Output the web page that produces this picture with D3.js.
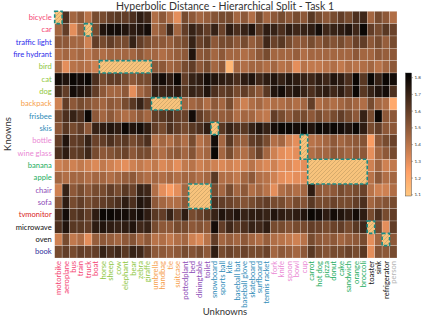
<!DOCTYPE html>
<html><head><meta charset="utf-8">
<script src="https://cdn.jsdelivr.net/npm/d3@7"></script>
<style>body{margin:0;background:#fff}svg{display:block}</style>
</head><body>
<svg id="c" width="423" height="320"></svg>
<script>
const knowns = ["bicycle","car","traffic light","fire hydrant","bird","cat","dog","backpack","frisbee","skis","bottle","wine glass","banana","apple","chair","sofa","tvmonitor","microwave","oven","book"];
const knownGroups = ["vehicle","vehicle","outdoor","outdoor","animal","animal","animal","accessory","sports","sports","kitchen","kitchen","food","food","furniture","furniture","electronic","appliance","appliance","indoor"];
const unknowns = ["motorbike","aeroplane","bus","train","truck","boat","horse","sheep","cow","elephant","bear","zebra","giraffe","umbrella","handbag","tie","suitcase","pottedplant","bed","diningtable","toilet","snowboard","sports ball","kite","baseball bat","baseball glove","skateboard","surfboard","tennis racket","fork","knife","spoon","bowl","cup","carrot","hot dog","pizza","donut","cake","sandwich","orange","broccoli","toaster","sink","refrigerator","person"];
const unknownGroups = ["vehicle","vehicle","vehicle","vehicle","vehicle","vehicle","animal","animal","animal","animal","animal","animal","animal","accessory","accessory","accessory","accessory","furniture","furniture","furniture","furniture","sports","sports","sports","sports","sports","sports","sports","sports","kitchen","kitchen","kitchen","kitchen","kitchen","food","food","food","food","food","food","food","food","appliance","appliance","appliance","person"];
const groupColors = {vehicle:"#f43f72",outdoor:"#2b2bea",animal:"#8fc73e",accessory:"#f6a04a",sports:"#2e8bb8",kitchen:"#ea88d4",food:"#23ad60",furniture:"#8c4ab6",electronic:"#d92525",appliance:"#111111",indoor:"#33339e",person:"#b4b4b4"};

// hyperbolic distance values, rows = knowns, columns = unknowns (null = highlighted split cell)
const values = [
 [null,1.65,1.45,1.5,1.4,1.55,1.55,1.6,1.62,1.6,1.65,1.72,1.68,1.42,1.5,1.42,1.3,1.55,1.5,1.45,1.48,1.52,1.55,1.55,1.45,1.5,1.42,1.55,1.45,1.5,1.55,1.5,1.55,1.5,1.62,1.55,1.5,1.55,1.6,1.55,1.65,1.68,1.45,1.55,1.5,1.42],
 [1.45,1.6,1.3,1.45,null,1.55,1.75,1.78,1.78,1.75,1.72,1.75,1.78,1.45,1.5,1.68,1.45,1.6,1.7,1.65,1.6,1.7,1.58,1.72,1.65,1.7,1.75,1.62,1.72,1.7,1.65,1.72,1.68,1.7,1.72,1.78,1.68,1.7,1.72,1.75,1.68,1.8,1.6,1.55,1.62,1.58],
 [1.5,1.5,1.45,1.45,1.35,1.6,1.55,1.6,1.55,1.55,1.7,1.6,1.55,1.5,1.5,1.48,1.52,1.55,1.7,1.58,1.62,1.5,1.55,1.55,1.5,1.55,1.48,1.52,1.68,1.58,1.62,1.55,1.5,1.5,1.55,1.5,1.55,1.52,1.55,1.5,1.58,1.6,1.5,1.55,1.48,1.55],
 [1.42,1.45,1.42,1.45,1.4,1.45,1.42,1.45,1.45,1.45,1.45,1.5,1.45,1.45,1.42,1.45,1.48,1.5,1.75,1.5,1.52,1.45,1.5,1.45,1.45,1.42,1.45,1.5,1.55,1.45,1.45,1.45,1.48,1.42,1.45,1.45,1.45,1.45,1.45,1.45,1.5,1.45,1.45,1.5,1.48,1.5],
 [1.45,1.3,1.4,1.42,1.4,1.35,null,null,null,null,null,null,null,1.5,1.5,1.45,1.48,1.55,1.6,1.5,1.55,1.45,1.5,1.15,1.45,1.42,1.45,1.45,1.42,1.45,1.4,1.42,1.3,1.4,1.38,1.38,1.4,1.42,1.38,1.42,1.4,1.42,1.45,1.4,1.45,1.5],
 [1.78,1.75,1.8,1.78,1.8,1.65,1.55,1.6,1.6,1.55,1.5,1.55,1.55,1.75,1.78,1.72,1.8,1.6,1.7,1.72,1.78,1.75,1.72,1.7,1.65,1.72,1.75,1.68,1.72,1.75,1.7,1.75,1.72,1.7,1.68,1.72,1.68,1.75,1.72,1.65,1.8,1.62,1.8,1.7,1.8,1.78],
 [1.68,1.6,1.78,1.75,1.72,1.6,1.5,1.45,1.45,1.5,1.3,1.45,1.5,1.7,1.68,1.7,1.72,1.62,1.7,1.68,1.75,1.65,1.6,1.62,1.55,1.6,1.55,1.5,1.62,1.75,1.78,1.72,1.75,1.7,1.65,1.7,1.72,1.68,1.72,1.65,1.8,1.62,1.7,1.75,1.78,1.65],
 [1.35,1.6,1.5,1.55,1.52,1.48,1.45,1.5,1.48,1.55,1.62,1.7,1.6,null,null,null,null,1.45,1.45,1.48,1.42,1.5,1.45,1.55,1.42,1.35,1.42,1.45,1.4,1.42,1.42,1.45,1.42,1.45,1.6,1.42,1.45,1.42,1.45,1.48,1.45,1.42,1.55,1.45,1.42,1.2],
 [1.55,1.65,1.7,1.65,1.8,1.5,1.45,1.5,1.45,1.42,1.45,1.5,1.45,1.6,1.62,1.65,1.6,1.58,1.78,1.6,1.55,1.5,1.48,1.5,1.42,1.45,1.45,1.4,1.38,1.6,1.55,1.5,1.55,1.55,1.5,1.55,1.5,1.55,1.6,1.55,1.5,1.7,1.55,1.8,1.5,1.5],
 [1.5,1.62,1.55,1.6,1.5,1.7,1.72,1.75,1.72,1.8,1.75,1.78,1.72,1.6,1.55,1.65,1.6,1.55,1.62,1.65,1.72,null,1.62,1.7,1.65,1.62,1.7,1.75,1.7,1.78,1.8,1.8,1.78,1.8,1.75,1.8,1.78,1.8,1.78,1.75,1.8,1.72,1.55,1.6,1.5,1.5],
 [1.6,1.75,1.6,1.62,1.7,1.58,1.6,1.65,1.6,1.62,1.55,1.6,1.65,1.42,1.45,1.42,1.48,1.42,1.55,1.4,1.45,1.78,1.45,1.62,1.5,1.48,1.6,1.62,1.55,1.42,1.45,1.35,1.3,null,1.4,1.42,1.45,1.5,1.45,1.48,1.5,1.52,1.25,1.5,1.55,1.58],
 [1.65,1.72,1.6,1.62,1.68,1.55,1.5,1.52,1.55,1.58,1.5,1.55,1.55,1.45,1.42,1.48,1.5,1.45,1.52,1.42,1.45,1.8,1.45,1.55,1.45,1.42,1.5,1.58,1.45,1.35,1.3,1.28,1.3,null,1.42,1.45,1.45,1.5,1.48,1.45,1.5,1.5,1.3,1.45,1.5,1.55],
 [1.35,1.38,1.35,1.38,1.35,1.32,1.38,1.35,1.32,1.3,1.35,1.38,1.35,1.38,1.32,1.35,1.3,1.38,1.4,1.35,1.38,1.35,1.32,1.35,1.32,1.35,1.4,1.35,1.32,1.35,1.3,1.32,1.28,1.3,null,null,null,null,null,null,null,null,1.35,1.45,1.35,1.38],
 [1.45,1.42,1.45,1.45,1.42,1.45,1.45,1.42,1.45,1.48,1.5,1.45,1.42,1.45,1.42,1.45,1.42,1.45,1.45,1.42,1.45,1.62,1.42,1.42,1.38,1.45,1.5,1.42,1.4,1.35,1.3,1.28,1.3,1.3,null,null,null,null,null,null,null,null,1.4,1.5,1.42,1.45],
 [1.35,1.7,1.5,1.55,1.5,1.55,1.55,1.6,1.55,1.62,1.58,1.7,1.68,1.42,1.3,1.25,1.3,1.45,null,null,null,1.55,1.45,1.55,1.45,1.5,1.42,1.45,1.4,1.3,1.42,1.45,1.42,1.45,1.72,1.5,1.48,1.5,1.55,1.52,1.55,1.58,1.4,1.35,1.35,1.42],
 [1.5,1.72,1.55,1.6,1.55,1.58,1.6,1.62,1.65,1.72,1.65,1.75,1.72,1.5,1.45,1.42,1.42,1.5,null,null,null,1.65,1.6,1.58,1.55,1.52,1.55,1.58,1.6,1.55,1.55,1.5,1.55,1.52,1.62,1.55,1.55,1.58,1.55,1.55,1.6,1.65,1.45,1.5,1.52,1.55],
 [1.65,1.78,1.62,1.65,1.6,1.72,1.8,1.8,1.78,1.78,1.75,1.78,1.72,1.62,1.6,1.7,1.6,1.72,1.55,1.58,1.62,1.7,1.75,1.72,1.75,1.7,1.72,1.72,1.7,1.75,1.72,1.7,1.72,1.75,1.8,1.78,1.72,1.78,1.75,1.72,1.78,1.72,1.55,1.65,1.55,1.6],
 [1.65,1.75,1.62,1.62,1.6,1.72,1.75,1.72,1.7,1.72,1.75,1.68,1.7,1.55,1.5,1.5,1.55,1.55,1.5,1.52,1.5,1.78,1.6,1.68,1.62,1.65,1.7,1.68,1.72,1.55,1.55,1.52,1.55,1.55,1.6,1.58,1.55,1.58,1.6,1.55,1.62,1.68,null,1.55,1.3,1.6],
 [1.35,1.55,1.38,1.42,1.3,1.48,1.5,1.48,1.45,1.5,1.52,1.45,1.5,1.4,1.42,1.38,1.42,1.45,1.35,1.32,1.4,1.6,1.45,1.48,1.45,1.5,1.45,1.42,1.48,1.42,1.4,1.38,1.35,1.4,1.55,1.5,1.48,1.5,1.45,1.48,1.5,1.55,1.3,1.45,null,1.5],
 [1.55,1.6,1.55,1.6,1.58,1.6,1.7,1.65,1.68,1.62,1.7,1.68,1.6,1.5,1.5,1.48,1.5,1.55,1.52,1.55,1.5,1.72,1.55,1.58,1.55,1.58,1.55,1.55,1.58,1.45,1.5,1.48,1.45,1.5,1.62,1.55,1.52,1.55,1.55,1.58,1.55,1.62,1.3,1.52,1.5,1.55]
];

// highlighted (same-superclass) blocks: known rows x unknown columns
const highlights = [
 {rows:["bicycle"], cols:["motorbike"]},
 {rows:["car"], cols:["truck"]},
 {rows:["bird"], cols:["horse","giraffe"]},
 {rows:["backpack"], cols:["umbrella","suitcase"]},
 {rows:["skis"], cols:["snowboard"]},
 {rows:["bottle","wine glass"], cols:["cup"]},
 {rows:["banana","apple"], cols:["carrot","broccoli"]},
 {rows:["chair","sofa"], cols:["bed","toilet"]},
 {rows:["microwave"], cols:["toaster"]},
 {rows:["oven"], cols:["refrigerator"]}
];
const cbTicks = [1.1,1.2,1.3,1.4,1.5,1.6,1.7,1.8];
const cbDomain = [1.09,1.825];

const FONT = "Lato, 'DejaVu Sans', sans-serif";
const svg = d3.select("#c");
const x = d3.scaleBand().domain(unknowns).range([54.7, 397]);
const y = d3.scaleBand().domain(knowns).range([11.3, 258]);
function copper(t){ return d3.rgb(255*Math.min(1,1.25*t), 255*0.7812*t, 255*0.4975*t); }
const tScale = d3.scaleLinear().domain(cbDomain).range([1,0]).clamp(true);
const color = v => copper(tScale(v));

// hatch pattern
const defs = svg.append("defs");
const pat = defs.append("pattern").attr("id","hatch").attr("patternUnits","userSpaceOnUse")
  .attr("width",4).attr("height",4);
pat.append("rect").attr("width",4).attr("height",4).attr("fill","#f7c37c");
pat.append("path").attr("d","M-1,1 l2,-2 M0,4 l4,-4 M3,5 l2,-2").attr("stroke","#c09a62").attr("stroke-width",0.6);

// cells
const cells = [];
values.forEach((row,i)=>row.forEach((v,j)=>cells.push({r:knowns[i],c:unknowns[j],v})));
svg.append("g").selectAll("rect").data(cells.filter(d=>d.v!==null)).join("rect")
  .attr("x",d=>x(d.c)).attr("y",d=>y(d.r))
  .attr("width",x.bandwidth()).attr("height",y.bandwidth())
  .attr("fill",d=>color(d.v))
  .attr("stroke","rgba(255,255,255,0.45)").attr("stroke-width",0.5);

// highlight boxes
const hl = svg.append("g");
highlights.forEach(h=>{
  const c0 = x(h.cols[0]), c1 = x(h.cols[h.cols.length-1]) + x.bandwidth();
  const r0 = y(h.rows[0]), r1 = y(h.rows[h.rows.length-1]) + y.bandwidth();
  hl.append("rect").attr("x",c0).attr("y",r0).attr("width",c1-c0).attr("height",r1-r0)
    .attr("fill","url(#hatch)").attr("stroke","#1b8c86").attr("stroke-width",1.6)
    .attr("stroke-dasharray","3.5,2");
});

// axes
const yAxis = svg.append("g").attr("transform","translate(54.7,0)").call(d3.axisLeft(y).tickSize(0).tickPadding(3));
yAxis.select(".domain").remove();
yAxis.selectAll("text").attr("font-family",FONT).attr("font-size",7.6)
  .attr("fill",(d,i)=>groupColors[knownGroups[i]]);

const xAxis = svg.append("g").attr("transform","translate(0,258)").call(d3.axisBottom(x).tickSize(0).tickPadding(3));
xAxis.select(".domain").remove();
xAxis.selectAll("text").attr("font-family",FONT).attr("font-size",7.6)
  .attr("transform","rotate(-90)").attr("x",-3).attr("y",0).attr("dy","0.35em")
  .style("text-anchor","end")
  .attr("fill",(d,i)=>groupColors[unknownGroups[i]]);

// titles
svg.append("text").attr("x",225).attr("y",10).attr("text-anchor","middle")
  .attr("font-family",FONT).attr("font-size",10.5).attr("fill","#333")
  .text("Hyperbolic Distance - Hierarchical Split - Task 1");
svg.append("text").attr("x",225).attr("y",315).attr("text-anchor","middle")
  .attr("font-family",FONT).attr("font-size",9.5).attr("fill","#333").text("Unknowns");
svg.append("text").attr("transform","translate(11,134) rotate(-90)").attr("text-anchor","middle")
  .attr("font-family",FONT).attr("font-size",9.5).attr("fill","#333").text("Knowns");

// colorbar
const cbX = 405.5, cbW = 6, cbTop = 73, cbBot = 196;
const cbY = d3.scaleLinear().domain(cbDomain).range([cbBot, cbTop]);
const grad = defs.append("linearGradient").attr("id","cbg").attr("x1",0).attr("x2",0).attr("y1",1).attr("y2",0);
d3.range(0,1.0001,0.05).forEach(s=>{
  grad.append("stop").attr("offset",s).attr("stop-color",color(cbDomain[0]+s*(cbDomain[1]-cbDomain[0])));
});
svg.append("rect").attr("x",cbX).attr("y",cbTop).attr("width",cbW).attr("height",cbBot-cbTop)
  .attr("fill","url(#cbg)").attr("stroke","#333").attr("stroke-width",0.4);
const cbAxis = svg.append("g").attr("transform",`translate(${cbX+cbW},0)`)
  .call(d3.axisRight(cbY).tickValues(cbTicks).tickFormat(d3.format(".1f")).tickSize(1.5).tickPadding(1.5));
cbAxis.select(".domain").remove();
cbAxis.selectAll("line").attr("stroke","#333").attr("stroke-width",0.4);
cbAxis.selectAll("text").attr("font-family",FONT).attr("font-size",4.5).attr("fill","#333");
</script>
</body></html>
